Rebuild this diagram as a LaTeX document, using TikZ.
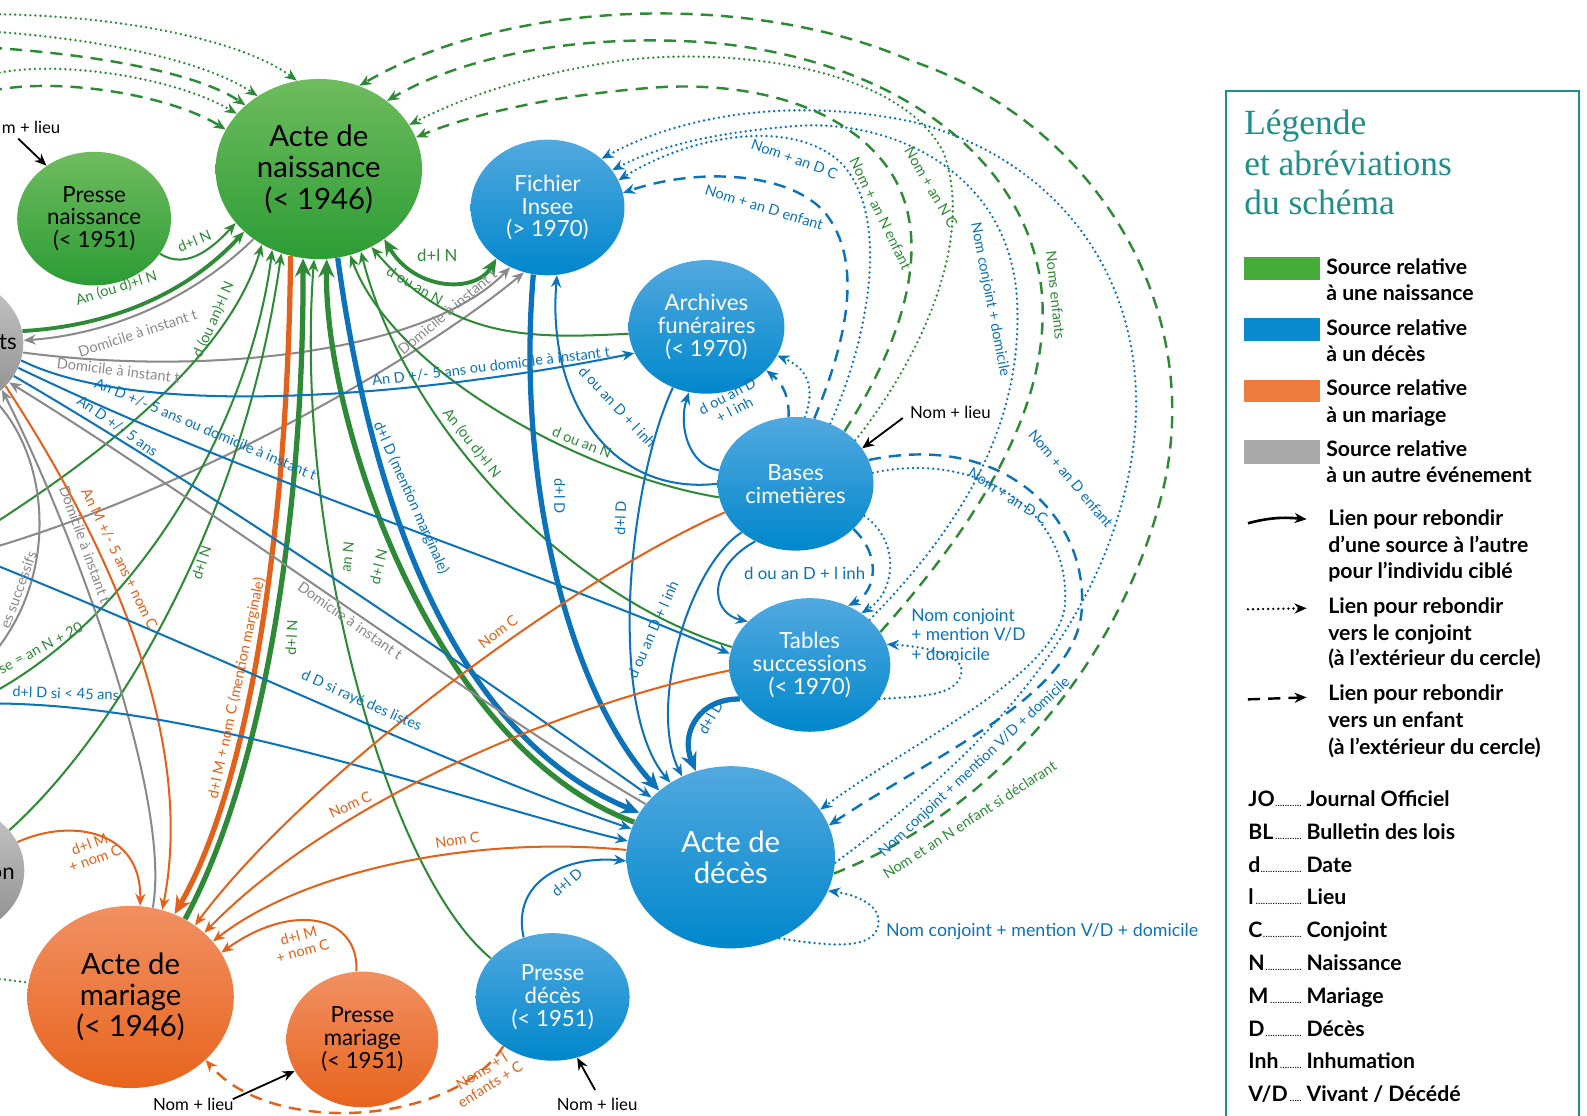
\documentclass[tikz,border=0pt]{standalone}
\usepackage{fontspec}
\setmainfont{Lato}
\newfontfamily\titlefont{Liberation Serif}
\usetikzlibrary{shapes.geometric,arrows.meta}
\pgfdeclarelayer{bg}
\pgfsetlayers{bg,main}
\definecolor{gT}{HTML}{6FBC5E}
\definecolor{gB}{HTML}{2C9C35}
\definecolor{bT}{HTML}{52A9DF}
\definecolor{bB}{HTML}{0087CC}
\definecolor{oT}{HTML}{F19062}
\definecolor{oB}{HTML}{E8641E}
\definecolor{yT}{HTML}{C8C8C8}
\definecolor{yB}{HTML}{8C8C8C}
\definecolor{lG}{HTML}{2F8A38}
\definecolor{lB}{HTML}{0C72B9}
\definecolor{lO}{HTML}{E2611B}
\definecolor{lY}{HTML}{8A8A8A}
\definecolor{swG}{HTML}{47AB3A}
\definecolor{swB}{HTML}{0A8BD0}
\definecolor{swO}{HTML}{EE7C3F}
\definecolor{swY}{HTML}{A9A9A9}
\definecolor{tealL}{HTML}{1E8F89}
\begin{document}
\begin{tikzpicture}[x=0.5pt,y=-0.5pt,
 nd/.style={ellipse,inner sep=0pt,align=center},
 ndG/.style={nd,top color=gT,bottom color=gB,text=black},
 ndB/.style={nd,top color=bT,bottom color=bB,text=white},
 ndO/.style={nd,top color=oT,bottom color=oB,text=black},
 ndY/.style={nd,top color=yT,bottom color=yB,text=black},
 big/.style={font=\fontsize{14.5}{15.5}\selectfont},
 sml/.style={font=\fontsize{11}{11.3}\selectfont},
 el/.style={font=\fontsize{7.2}{7.8}\selectfont,inner sep=0.5pt,align=center},
 el8/.style={font=\fontsize{8.3}{9.4}\selectfont,inner sep=0.5pt,align=left},
 thn/.style={line width=1pt},
 med/.style={line width=1.9pt},
 thk/.style={line width=2.6pt},
 dts/.style={line width=1.3pt,dash pattern=on 0pt off 2.5pt,line cap=round},
 dsh/.style={line width=1.2pt,dash pattern=on 6pt off 4pt},
 tp/.style={-{Stealth[length=6pt,width=5pt]}},
 tpb/.style={-{Stealth[length=9pt,width=8pt]}},
 lgt/.style={anchor=base west,inner sep=0pt,font=\bfseries\fontsize{10.5}{12}\selectfont},
]
\useasboundingbox (0,0) rectangle (1568,1102);

% ---------------- nodes
\node[ndG,big,minimum width=102pt,minimum height=89pt] (AN) at (315,167) {Acte de\\naissance\\(< 1946)};
\node[ndG,sml,minimum width=76pt,minimum height=66pt] (PN) at (93,216) {Presse\\naissance\\(< 1951)};
\node[ndB,sml,minimum width=76pt,minimum height=67pt] (FI) at (541,205) {Fichier\\Insee\\(> 1970)};
\node[ndB,sml,minimum width=77pt,minimum height=66pt] (AF) at (698,323) {Archives\\funéraires\\(< 1970)};
\node[ndB,sml,minimum width=77pt,minimum height=66pt] (BC) at (786,478) {Bases\\cimetières};
\node[ndB,sml,minimum width=77pt,minimum height=66pt] (TS) at (800,657) {Tables\\successions\\(< 1970)};
\node[ndB,big,minimum width=103pt,minimum height=90pt] (AD) at (722,847) {Acte de\\décès};
\node[ndB,sml,minimum width=76pt,minimum height=63pt] (PD) at (546,985) {Presse\\décès\\(< 1951)};
\node[ndO,big,minimum width=102pt,minimum height=90pt] (AM) at (129,985) {Acte de\\mariage\\(< 1946)};
\node[ndO,sml,minimum width=75pt,minimum height=67pt] (PM) at (358,1027) {Presse\\mariage\\(< 1951)};
\node[ndY,minimum width=76pt,minimum height=66pt] (G1) at (-53,339) {};
\node[ndY,minimum width=76pt,minimum height=66pt] (G2) at (-52,860) {};
\node[sml,anchor=east,inner sep=0pt] (G1t) at (17,338) {ts};
\node[sml,anchor=east,inner sep=0pt] (G2t) at (15,863) {on};

\begin{pgfonlayer}{bg}
\fill[white] (0,0) rectangle (1568,1102);
% top-left arcs into AN
\draw[lG,dts,tp] (-10,14) .. controls (120,15) and (240,40) .. (AN.104);
\draw[lG,dts,tp] (-10,31) .. controls (120,40) and (210,65) .. (AN.130);
\draw[lG,dsh,tp] (-10,47) .. controls (110,55) and (200,75) .. (AN.139);
\draw[lG,dts,tp] (-10,74) .. controls (50,58) and (170,75) .. (AN.146);
\draw[lG,dsh,tp] (-10,90) .. controls (60,75) and (170,95) .. (AN.157);
% left side
\draw[lG,thn,tp] (PN.-28) .. controls (185,268) and (212,243) .. (AN.213);
\draw[lG,med,tp] (G1.9) .. controls (110,322) and (185,290) .. (AN.220);
\draw[lY,thn,tp] (AN.227) .. controls (190,295) and (110,330) .. (G1.2);
\draw[lY,thn,tp] (G1.-7) .. controls (200,372) and (420,350) .. (FI.238);
\draw[lY,thn,tp] (-10,542) .. controls (200,480) and (420,350) .. (FI.250);
\draw[lG,thn,tp] (-10,520) .. controls (130,430) and (230,340) .. (AN.233);
\draw[lG,thn,tp] (-10,686) .. controls (150,600) and (250,400) .. (AN.240);
\draw[lG,thn,tp] (G2.33) .. controls (110,730) and (240,520) .. (AN.246);
\draw[lO,thk,tpb] (AN.252) .. controls (285,480) and (255,760) .. (AM.62);
\draw[lG,thk,tpb] (AM.55) .. controls (268,750) and (300,480) .. (AN.260);
\draw[lG,thn,tp] (PD.148) .. controls (380,860) and (290,520) .. (AN.267);
\draw[lG,thk,tpb] (AD.160) .. controls (430,740) and (320,420) .. (AN.275);
\draw[lB,thk,tpb] (AN.282) .. controls (360,450) and (430,720) .. (AD.154);
\draw[lG,thn,tp] (BC.190) .. controls (580,470) and (390,370) .. (AN.290);
\draw[lG,thn,tp] (TS.167) .. controls (560,590) and (400,420) .. (AN.297);
\draw[lG,thn,tp] (AF.185) .. controls (520,335) and (445,335) .. (AN.304);
\draw[lG,med,{Stealth[length=8pt,width=7pt]}-{Stealth[length=8pt,width=7pt]}] (AN.313) .. controls (410,288) and (470,290) .. (FI.225);
% blue into AD
\draw[lB,thk,tpb] (FI.258) .. controls (510,470) and (560,680) .. (AD.137);
\draw[lB,thn,tp] (AF.241) .. controls (620,480) and (600,700) .. (AD.129);
\draw[lB,thn,tp] (BC.180) .. controls (600,490) and (540,390) .. (FI.278);
\draw[lB,thn,tp] (BC.170) .. controls (680,460) and (670,420) .. (AF.255);
\draw[lB,thn,tp] (BC.235) .. controls (700,560) and (700,605) .. (TS.145);
\draw[lB,thn,tp] (BC.222) .. controls (680,560) and (640,700) .. (AD.121);
\draw[lB,dts,tp] (BC.82) .. controls (805,385) and (800,365) .. (AF.-22);
\draw[lB,dsh,tp] (BC.96) .. controls (780,395) and (775,380) .. (AF.-36);
\draw[lB,dts,tp] (BC.-25) .. controls (890,535) and (885,585) .. (TS.45);
\draw[lB,dsh,tp] (BC.-38) .. controls (872,550) and (865,585) .. (TS.57);
\draw[lB,thk,tpb] (TS.206) .. controls (690,690) and (672,725) .. (AD.112);
\draw[lB,thn,tp] (PD.116) .. controls (505,870) and (560,845) .. (AD.182);
\draw[lB,thn,tp] (G1.-13) .. controls (150,420) and (450,385) .. (AF.200);
\draw[lB,thn,tp] (G1.-19) .. controls (250,475) and (500,552) .. (TS.172);
\draw[lB,thn,tp] (G1.-26) .. controls (200,480) and (450,650) .. (AD.143);
\draw[lY,thn,tp] (AD.148) .. controls (500,715) and (200,495) .. (G1.-32);
\draw[lY,thn,tp] (AM.76) .. controls (170,790) and (75,530) .. (G1.-40);
\draw[lO,thn,tp] (G1.-36) .. controls (70,480) and (200,700) .. (AM.70);
\draw[lY,thn] (G1.-50) .. controls (50,450) and (60,570) .. (-10,650);
\draw[lB,thn,tp] (-10,556) .. controls (200,640) and (450,760) .. (AD.164);
\draw[lB,thn,tp] (-10,695) .. controls (200,695) and (450,790) .. (AD.171);
% orange into AM
\draw[lO,thn,tp] (BC.202) .. controls (560,575) and (300,770) .. (AM.48);
\draw[lO,thn,tp] (TS.184) .. controls (560,695) and (330,790) .. (AM.41);
\draw[lO,thn,tp] (AD.176) .. controls (470,825) and (300,860) .. (AM.34);
\draw[lO,thn,tp] (PM.95) .. controls (355,905) and (290,890) .. (AM.26);
\draw[lO,thn,tp] (G2.22) .. controls (70,808) and (140,820) .. (AM.84);
\draw[lO,dsh,tp] (PD.225) .. controls (450,1110) and (270,1125) .. (AM.-40);
\draw[lG,dts] (-10,966) -- (AM.172);
% self loops
\draw[lB,dts,tp] (AD.-59) .. controls (820,935) and (868,940) .. (868,910) .. controls (868,893) and (845,884) .. (AD.-19);
\draw[lB,dts,tp] (TS.-26) .. controls (900,688) and (950,690) .. (950,662) .. controls (950,645) and (905,638) .. (TS.15);
% big right arcs (green)
\draw[lG,dsh,tp] (AD.-9) .. controls (985,800) and (1110,650) .. (1150,480) .. controls (1190,300) and (1080,120) .. (900,60) .. controls (740,-10) and (500,0) .. (AN.64);
\draw[lG,dsh,tp] (TS.25) .. controls (945,540) and (1035,420) .. (1030,300) .. controls (1025,170) and (900,60) .. (700,42) .. controls (560,32) and (450,60) .. (AN.45);
\draw[lG,dts,tp] (BC.36) .. controls (905,360) and (965,240) .. (932,150) .. controls (885,60) and (700,45) .. (600,62) .. controls (520,75) and (460,95) .. (AN.26);
\draw[lG,dsh,tp] (BC.47) .. controls (890,340) and (925,240) .. (880,170) .. controls (830,95) and (720,80) .. (640,87) .. controls (540,95) and (460,115) .. (AN.18);
% big right arcs (blue)
\draw[lB,dts,tp] (AD.-3) .. controls (950,760) and (1080,640) .. (1115,470) .. controls (1150,300) and (1060,160) .. (900,120) .. controls (780,95) and (670,115) .. (FI.42);
\draw[lB,dts,tp] (TS.37) .. controls (950,520) and (1010,420) .. (1005,300) .. controls (1000,170) and (880,115) .. (780,125) .. controls (700,132) and (650,145) .. (FI.30);
\draw[lB,dts,tp] (BC.60) .. controls (860,330) and (880,210) .. (830,160) .. controls (780,115) and (680,135) .. (FI.21);
\draw[lB,dsh,tp] (BC.74) .. controls (835,340) and (855,260) .. (815,210) .. controls (780,170) and (690,165) .. (FI.11);
\draw[lB,dts,tp] (BC.8) .. controls (960,445) and (1060,500) .. (1052,600) .. controls (1040,670) and (905,730) .. (AD.28);
\draw[lB,dsh,tp] (BC.18) .. controls (1000,425) and (1080,520) .. (1068,610) .. controls (1055,690) and (925,745) .. (AD.18);
\end{pgfonlayer}

% black "Nom + lieu"
\node[el8,text=black] (nl1) at (191,1091) {Nom + lieu};
\coordinate (nl1a) at (230,1086);
\draw[black,line width=0.9pt,tp] (nl1a) -- (PM.205);
\node[el8,text=black] (nl2) at (590,1091) {Nom + lieu};
\coordinate (nl2a) at (588,1077);
\draw[black,line width=0.9pt,tp] (nl2a) -- (PD.-68);
\node[el8,text=black] (nl3) at (939,407) {Nom + lieu};
\coordinate (nl3a) at (892,413);
\draw[black,line width=0.9pt,tp] (nl3a) -- (BC.28);
\node[el8,text=black,anchor=east] (nl4) at (61,126) {m + lieu};
\coordinate (nl4a) at (18,137);
\draw[black,line width=0.9pt,tp] (nl4a) -- (PN.132);

% ---------------- edge labels
\node[el,text=lG,rotate=22] (l1) at (192,238) {d+l N};
\node[el,text=lG,rotate=17] (l2) at (115,285) {An (ou d)+l N};
\node[el,text=lY,rotate=18] (l3) at (136,329) {Domicile à instant t};
\node[el,text=lY,rotate=-7] (l4) at (117,366) {Domicile à instant t};
\node[el,text=lY,rotate=40] (l5) at (442,308) {Domicile à instant t};
\node[el,text=lG,rotate=66] (l6) at (211,316) {d (ou an)+l N};
\node[el,text=lG,rotate=28] (l7) at (40,640) {se = an N + 20};
\node[el,text=lG,rotate=72] (l8) at (199,556) {d+l N};
\node[el,text=lO,rotate=78] (l9) at (234,680) {d+l M + nom C (mention marginale)};
\node[el,text=lG,rotate=87] (l10) at (288,630) {d+l N};
\node[el,text=lG,rotate=83] (l11) at (343,550) {an N};
\node[el,text=lG,rotate=76] (l12) at (374,560) {d+l N};
\node[el,text=lB,rotate=-66] (l13) at (406,492) {d+l D (mention marginale)};
\node[el,text=lG,rotate=-22] (l14) at (575,437) {d ou an N};
\node[el,text=lG,rotate=-52] (l15) at (466,438) {An (ou d)+l N};
\node[el,text=lG,rotate=-30] (l16) at (410,282) {d ou an N};
\node[el8,text=lG] (l17) at (432,252) {d+l N};
\node[el,text=lB,rotate=-90] (l18) at (553,490) {d+l D};
\node[el,text=lB,rotate=88] (l19) at (613,512) {d+l D};
\node[el,text=lB,rotate=-47] (l20) at (610,402) {d ou an D + l inh};
\node[el,text=lB,rotate=28] (l21) at (722,398) {d ou an D\\+ l inh};
\node[el8,text=lB] (l22) at (795,567) {d ou an D + l inh};
\node[el,text=lB,rotate=66] (l23) at (645,622) {d ou an D + l inh};
\node[el,text=lB,rotate=60] (l24) at (702,709) {d+l D};
\node[el,text=lB,rotate=40] (l25) at (560,872) {d+l D};
\node[el,text=lB,rotate=7] (l26) at (485,362) {An D +/- 5 ans ou domicile à instant t};
\node[el,text=lB,rotate=-23] (l27) at (203,424) {An D +/- 5 ans ou domicile à instant t};
\node[el,text=lB,rotate=-35] (l28) at (116,421) {An D +/- 5 ans};
\node[el,text=lY,rotate=-35] (l29) at (346,613) {Domicile à instant t};
\node[el,text=lY,rotate=-70] (l30) at (84,538) {Domicile à instant t};
\node[el,text=lO,rotate=-64] (l31) at (118,552) {An M +/- 5 ans + nom C};
\node[el,text=lB,rotate=-24] (l32) at (357,693) {d D si rayé des listes};
\node[el,text=lB,rotate=-2] (l33) at (65,685) {d+l D si < 45 ans};
\node[el,text=lY,rotate=70] (l34) at (18,583) {es successifs};
\node[el,text=lO,rotate=37] (l35) at (492,624) {Nom C};
\node[el,text=lO,rotate=25] (l36) at (346,795) {Nom C};
\node[el,text=lO,rotate=8] (l37) at (452,830) {Nom C};
\node[el,text=lO,rotate=15] (l38) at (297,932) {d+l M\\+ nom C};
\node[el,text=lO,rotate=20] (l39) at (91,841) {d+l M\\+ nom C};
\node[el,text=lO,rotate=32] (l40) at (480,1065) {Noms + l\\enfants + C};
\node[el,text=lB,rotate=-20] (l41) at (785,157) {Nom + an D C};
\node[el,text=lB,rotate=-17] (l42) at (755,205) {Nom + an D enfant};
\node[el,text=lG,rotate=-64] (l43) at (870,211) {Nom + an N enfant};
\node[el,text=lG,rotate=-60] (l44) at (920,185) {Nom + an N C};
\node[el,text=lB,rotate=-79] (l45) at (978,296) {Nom conjoint + domicile};
\node[el,text=lG,rotate=-84] (l46) at (1043,292) {Noms enfants};
\node[el,text=lB,rotate=-33] (l47) at (996,490) {Nom + an D C};
\node[el,text=lB,rotate=-50] (l48) at (1058,473) {Nom + an D enfant};
\node[el,text=lB,rotate=43] (l49) at (963,758) {Nom conjoint + mention V/D + domicile};
\node[el,text=lG,rotate=33] (l50) at (958,810) {Nom et an N enfant si déclarant};
\node[el8,text=lB,anchor=north west,font=\fontsize{8.6}{9.6}\selectfont] (l51) at (899,600) {Nom conjoint\\+ mention V/D\\+ domicile};
\node[el8,text=lB,anchor=west,font=\fontsize{8.8}{10}\selectfont] (l52) at (874,920) {Nom conjoint + mention V/D + domicile};

% ---------------- legend
\draw[tealL,line width=0.8pt] (1211,1110) -- (1211,90) -- (1560,90) -- (1560,1110);
\node[anchor=base west,inner sep=0pt,text=tealL,font=\titlefont\fontsize{17.5}{20}\selectfont] (t1) at (1229,133) {Légende};
\node[anchor=base west,inner sep=0pt,text=tealL,font=\titlefont\fontsize{17.5}{20}\selectfont] (t2) at (1229,173) {et abréviations};
\node[anchor=base west,inner sep=0pt,text=tealL,font=\titlefont\fontsize{17.5}{20}\selectfont] (t3) at (1229,212) {du schéma};
\fill[swG] (1229,254) rectangle (1304,277);
\fill[swB] (1229,314) rectangle (1304,337);
\fill[swO] (1229,375) rectangle (1304,397);
\fill[swY] (1229,435) rectangle (1304,458);
\node[lgt] (s1) at (1310,271) {Source relative};
\node[lgt] (s2) at (1310,297) {à une naissance};
\node[lgt] (s3) at (1310,331) {Source relative};
\node[lgt] (s4) at (1310,357) {à un décès};
\node[lgt] (s5) at (1310,391) {Source relative};
\node[lgt] (s6) at (1310,417) {à un mariage};
\node[lgt] (s7) at (1310,451) {Source relative};
\node[lgt] (s8) at (1310,477) {à un autre événement};
\coordinate (la1) at (1233,517); \coordinate (lb1) at (1291,513);
\draw[black,line width=1.3pt,tp] (la1) .. controls (1255,511) and (1270,511) .. (lb1);
\coordinate (la2) at (1233,602); \coordinate (lb2) at (1291,601);
\draw[black,dts,tp] (la2) -- (lb2);
\coordinate (la3) at (1233,691); \coordinate (lb3) at (1291,689);
\draw[black,dsh,tp] (la3) -- (lb3);
\node[lgt] (a1) at (1312,519) {Lien pour rebondir};
\node[lgt] (a2) at (1312,546) {d’une source à l’autre};
\node[lgt] (a3) at (1312,572) {pour l’individu ciblé};
\node[lgt] (a4) at (1312,606) {Lien pour rebondir};
\node[lgt] (a5) at (1312,633) {vers le conjoint};
\node[lgt] (a6) at (1312,658) {(à l’extérieur du cercle)};
\node[lgt] (a7) at (1312,692) {Lien pour rebondir};
\node[lgt] (a8) at (1312,719) {vers un enfant};
\node[lgt] (a9) at (1312,745) {(à l’extérieur du cercle)};
\newcommand\abk[2]{\hbox to 27pt{#1{\mdseries\fontsize{5}{5}\selectfont\leaders\hbox to 1.2pt{\hss.\hss}\hfill}}\,#2}
\node[lgt] (k1) at (1233,797) {\abk{JO}{Journal Officiel}};
\node[lgt] (k2) at (1233,829) {\abk{BL}{Bulletin des lois}};
\node[lgt] (k3) at (1233,862) {\abk{d}{Date}};
\node[lgt] (k4) at (1233,894) {\abk{l}{Lieu}};
\node[lgt] (k5) at (1233,926) {\abk{C}{Conjoint}};
\node[lgt] (k6) at (1233,959) {\abk{N}{Naissance}};
\node[lgt] (k7) at (1233,991) {\abk{M}{Mariage}};
\node[lgt] (k8) at (1233,1024) {\abk{D}{Décès}};
\node[lgt] (k9) at (1233,1056) {\abk{Inh}{Inhumation}};
\node[lgt] (k10) at (1233,1088) {\abk{V/D}{Vivant / Décédé}};
\end{tikzpicture}
\end{document}
